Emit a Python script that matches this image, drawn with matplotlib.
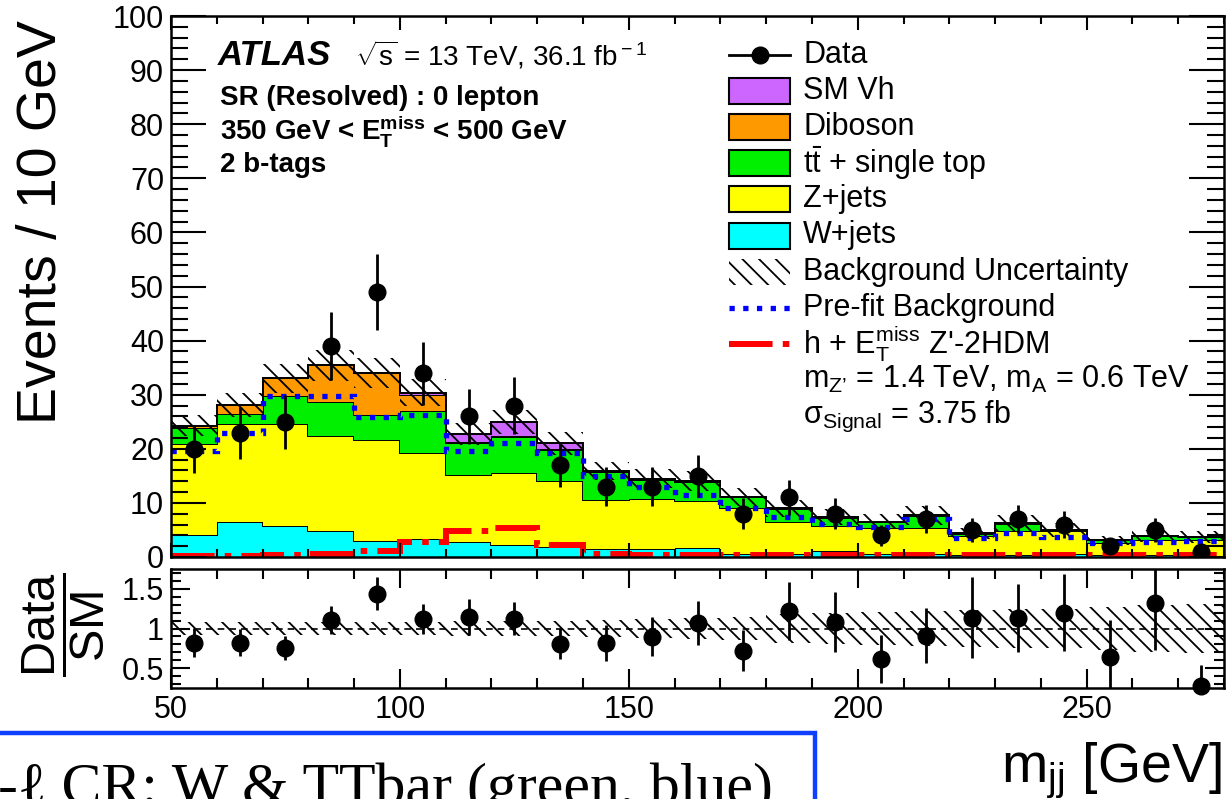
import matplotlib
matplotlib.use("Agg")
import matplotlib.pyplot as plt
import numpy as np
from matplotlib.lines import Line2D
from matplotlib.patches import Rectangle
from matplotlib.ticker import FuncFormatter, MultipleLocator

plt.rcParams['font.family'] = ['Liberation Sans', 'DejaVu Sans']
plt.rcParams['mathtext.fontset'] = 'custom'
plt.rcParams['mathtext.rm'] = 'Liberation Sans'
plt.rcParams['mathtext.it'] = 'Liberation Sans:italic'
plt.rcParams['mathtext.bf'] = 'Liberation Sans:bold'
plt.rcParams['hatch.linewidth'] = 1.3

# m_jj binning (GeV)
bin_edges = [50, 60, 70, 80, 90, 100, 110, 120, 130, 140, 150, 160, 170,
             180, 190, 200, 210, 220, 230, 240, 250, 260, 270, 280]

# post-fit background components, events / 10 GeV
w_jets = [4.0, 6.5, 5.7, 4.8, 3.0, 3.4, 2.8, 2.2, 1.8, 1.4, 1.5, 1.7,
          0.6, 0.6, 1.1, 0.5, 0.5, 0.4, 0.4, 0.5, 0.3, 0.3, 0.2]
z_jets = [16.9, 18.0, 18.8, 17.6, 18.7, 15.9, 12.3, 13.4, 12.3, 9.1, 9.2, 8.6,
          8.5, 5.8, 4.6, 4.8, 4.8, 3.5, 4.4, 4.3, 2.3, 2.9, 3.0]
ttbar = [2.9, 2.0, 5.3, 6.3, 4.5, 7.7, 6.0, 6.6, 5.7, 5.2, 3.6, 3.6,
         1.9, 2.4, 1.6, 1.1, 2.3, 0.4, 1.3, 0.1, 0.5, 0.6, 0.5]
diboson = [0.5, 1.6, 3.2, 6.7, 7.8, 2.9, 0.2, 0.2, 0.1, 0.1, 0.2, 0.1,
           0.1, 0.2, 0.1, 0.1, 0.1, 0.1, 0.1, 0.1, 0.0, 0.0, 0.0]
sm_vh = [0.0, 0.0, 0.0, 0.0, 0.0, 0.5, 1.4, 2.5, 1.1, 0.1, 0.0, 0.0,
         0.0, 0.0, 0.0, 0.0, 0.0, 0.0, 0.0, 0.0, 0.0, 0.0, 0.0]
bkg_unc_rel = [0.08, 0.08, 0.08, 0.08, 0.08, 0.08, 0.09, 0.09, 0.10, 0.11, 0.12, 0.13,
               0.15, 0.18, 0.20, 0.21, 0.22, 0.23, 0.24, 0.25, 0.27, 0.29, 0.31]
prefit_bkg = [19.6, 23.0, 29.7, 29.7, 25.9, 26.2, 19.6, 21.1, 19.3, 14.9, 12.9, 11.4,
              9.1, 7.4, 6.1, 5.6, 7.1, 3.6, 4.4, 3.7, 2.5, 2.8, 3.0]
signal = [0.2, 0.2, 0.3, 0.5, 1.2, 2.8, 4.8, 5.4, 2.2, 0.5, 0.4, 0.4,
          0.3, 0.3, 0.3, 0.3, 0.3, 0.3, 0.3, 0.3, 0.3, 0.3, 0.3]
data = [20, 23, 25, 39, 49, 34, 26, 28, 17, 13, 13, 15,
        8, 11, 8, 4, 7, 5, 7, 6, 2, 5, 1]

stack = [
    ("W+jets", w_jets, "#00ffff"),
    ("Z+jets", z_jets, "#ffff00"),
    (r"t$\bar{\rm t}$ + single top", ttbar, "#00f000"),
    ("Diboson", diboson, "#ff9900"),
    ("SM Vh", sm_vh, "#cc66ff"),
]

edges = np.array(bin_edges, dtype=float)
centers = 0.5 * (edges[:-1] + edges[1:])
data = np.array(data, dtype=float)
unc = np.array(bkg_unc_rel)

HATCH = '\\\\'
PREFIT_LS = (0, (1, 1.6))
SIGNAL_LS = (0, (7.3, 1.7, 1.1, 1.7))

W, H = 1228, 799
fig = plt.figure(figsize=(W / 100, H / 100), dpi=100)
ax = fig.add_axes([171 / W, 242 / H, 1053 / W, 541 / H])
rax = fig.add_axes([171 / W, 111 / H, 1053 / W, 119 / H])

# stacked backgrounds, each outlined in black like ROOT does
base = np.zeros(len(centers))
for label, vals, col in stack:
    top = base + np.array(vals)
    ax.stairs(top, edges, baseline=base, fill=True, color=col, lw=0)
    ax.stairs(top, edges, color='k', lw=1.4)
    base = top
total = base

ax.stairs(total * (1 + unc), edges, baseline=total * (1 - unc), fill=True,
          facecolor='none', edgecolor='k', hatch=HATCH, lw=0)
ax.stairs(prefit_bkg, edges, baseline=None, color='#0000ff', lw=3.8,
          linestyle=PREFIT_LS)
ax.stairs(signal, edges, baseline=None, color='#ff0000', lw=4.3,
          linestyle=SIGNAL_LS)
ax.errorbar(centers, data, yerr=np.sqrt(data), fmt='o', color='k', ms=12,
            elinewidth=2, capsize=0)

ax.set_xlim(50, 280)
ax.set_ylim(0, 100)
ax.yaxis.set_major_locator(MultipleLocator(10))
ax.yaxis.set_minor_locator(MultipleLocator(2))
ax.xaxis.set_major_locator(MultipleLocator(50))
ax.xaxis.set_minor_locator(MultipleLocator(10))
ax.tick_params(which='both', direction='in', top=True, right=True,
               labelbottom=False, width=1.5)
ax.tick_params(axis='y', which='major', length=25, labelsize=22, pad=5)
ax.tick_params(axis='y', which='minor', length=12.5)
ax.tick_params(axis='x', which='major', length=10)
ax.tick_params(axis='x', which='minor', length=5.5)

# ratio panel
ratio = data / total
ratio_err = np.sqrt(data) / total
rax.stairs(1 + unc, edges, baseline=1 - unc, fill=True,
           facecolor='none', edgecolor='k', hatch=HATCH, lw=0)
rax.axhline(1, color='k', lw=1.2, ls=(0, (4, 3)))
rax.errorbar(centers, ratio, yerr=ratio_err, fmt='none', ecolor='k',
             elinewidth=2, capsize=0)
rax.plot(centers, ratio, 'o', color='k', ms=12, clip_on=False, zorder=5)
rax.set_xlim(50, 280)
rax.set_ylim(0.25, 1.75)
rax.yaxis.set_major_locator(MultipleLocator(0.5))
rax.yaxis.set_minor_locator(MultipleLocator(0.1))
rax.xaxis.set_major_locator(MultipleLocator(50))
rax.xaxis.set_minor_locator(MultipleLocator(10))
rax.yaxis.set_major_formatter(FuncFormatter(lambda v, p: f"{v:g}"))
rax.tick_params(which='both', direction='in', top=True, right=True, width=1.5,
                labelsize=22)
rax.tick_params(which='major', length=14, pad=5)
rax.tick_params(which='minor', length=7)

for a in (ax, rax):
    for s in a.spines.values():
        s.set_linewidth(1.8)

# axis titles
fig.text(0.034, 1 - 20 / H, "Events / 10 GeV", rotation=90, ha='center',
         va='top', fontsize=40)
fig.text(0.052, 1 - 625 / H, r"$\dfrac{\rm Data}{\rm SM}$", rotation=90,
         ha='center', va='center', fontsize=35)
fig.text(1222 / W, 1 - 782 / H, r"m$_{\rm jj}$ [GeV]", ha='right',
         va='baseline', fontsize=40)


def ax_x(px):
    return (px - 171) / 1053


def ax_y(py):
    return (557 - py) / 541


# ATLAS label block
ax.text(ax_x(218), ax_y(55), "ATLAS", transform=ax.transAxes, fontsize=25,
        fontweight='bold', style='italic', va='center')
ax.text(ax_x(355), ax_y(55), r"$\sqrt{\rm s}$ = 13 TeV, 36.1 fb$^{\rm -1}$",
        transform=ax.transAxes, fontsize=20, va='center')
ax.text(ax_x(220), ax_y(98), "SR (Resolved) : 0 lepton", transform=ax.transAxes,
        fontsize=20, fontweight='bold', va='center')
ax.text(ax_x(220), ax_y(131),
        r"350 GeV < E$_{\mathbf{T}}^{\mathbf{miss}}$ < 500 GeV",
        transform=ax.transAxes, fontsize=20, fontweight='bold', va='center')
ax.text(ax_x(220), ax_y(165), "2 b-tags", transform=ax.transAxes, fontsize=20,
        fontweight='bold', va='center')

# hand-made legend, ROOT style
leg_x0, leg_x1, leg_tx = ax_x(729), ax_x(790), ax_x(803)
box_h = 26 / 541
rows = [55 + i * 36.1 for i in range(11)]
legend_labels = ["Data"] + [s[0] for s in stack[::-1]] + [
    "Background Uncertainty", "Pre-fit Background",
    r"h + E$_{\rm T}^{\rm miss}$ Z'-2HDM",
    "m$_{\\rm Z\u2019}$ = 1.4 TeV, m$_{\\rm A}$ = 0.6 TeV",
    "\u03c3$_{\\rm Signal}$ = 3.75 fb"]
for i, (py, lab) in enumerate(zip(rows, legend_labels)):
    y = ax_y(py)
    if i == 0:
        ax.add_line(Line2D([leg_x0, leg_x1], [y, y], color='k', lw=2,
                           transform=ax.transAxes, clip_on=False))
        ax.add_line(Line2D([(leg_x0 + leg_x1) / 2], [y], marker='o', ms=12,
                           color='k', transform=ax.transAxes, clip_on=False))
    elif 1 <= i <= 5:
        ax.add_patch(Rectangle((leg_x0, y - box_h / 2), leg_x1 - leg_x0, box_h,
                               facecolor=stack[5 - i][2], edgecolor='k', lw=1.5,
                               transform=ax.transAxes, clip_on=False))
    elif i == 6:
        ax.add_patch(Rectangle((leg_x0, y - box_h / 2), leg_x1 - leg_x0, box_h,
                               facecolor='none', edgecolor='k', hatch=HATCH, lw=0,
                               transform=ax.transAxes, clip_on=False))
    elif i == 7:
        ax.add_line(Line2D([leg_x0, leg_x1], [y, y], color='#0000ff', lw=3.8,
                           ls=PREFIT_LS, transform=ax.transAxes))
    elif i == 8:
        ax.add_line(Line2D([leg_x0, leg_x1], [y, y], color='#ff0000', lw=4.3,
                           ls=SIGNAL_LS, transform=ax.transAxes))
    ax.text(leg_tx, y, lab, transform=ax.transAxes, fontsize=22, va='center')

# annotation box pasted below the plot
fig.patches.append(Rectangle((-0.01, -0.02), 815 / W + 0.01, (799 - 733) / H + 0.02,
                             transform=fig.transFigure, facecolor='none',
                             edgecolor='#1040ff', lw=3.2))
fig.text(-2 / W, -5 / H, "-\u2113 CR: W & TTbar (green, blue)",
         family=['Liberation Serif', 'DejaVu Serif'], fontsize=43, va='baseline')

fig.savefig("out.png", dpi=100)
